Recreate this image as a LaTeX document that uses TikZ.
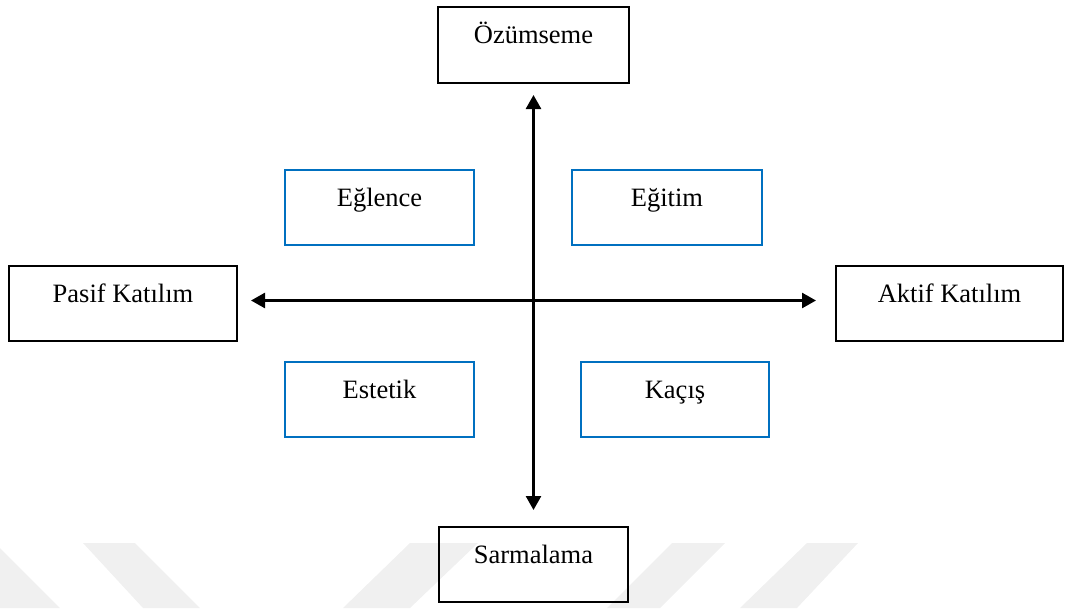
\documentclass[tikz,border=0pt]{standalone}
\usepackage{fontspec}
\setmainfont{Liberation Serif}
\usetikzlibrary{arrows.meta}
\definecolor{boxblue}{RGB}{0,112,192}
\definecolor{wmgray}{RGB}{240,240,240}
\tikzset{
  box/.style={draw, line width=2pt, inner sep=0pt, anchor=base,
    text height=36pt, text depth=40pt, font=\fontsize{26.5}{30}\selectfont},
  blackbox/.style={box, draw=black},
  bluebox/.style={box, draw=boxblue, text height=36pt, text depth=39pt},
  axis/.style={line width=2.6pt, {Triangle[length=14pt,width=15pt]}-{Triangle[length=14pt,width=15pt]}},
  wm/.style={fill=wmgray, draw=none}
}
\begin{document}
\begin{tikzpicture}[x=1pt,y=-1pt]
\useasboundingbox (0,0) rectangle (1065,608);
\begin{scope}
\clip (0,0) rectangle (1065,608);
\fill[wm] (-60,543) -- (-5,543) -- (60,608) -- (0,608) -- cycle;
\fill[wm] (83,543) -- (135,543) -- (200,608) -- (143,608) -- cycle;
\fill[wm] (410,543) -- (478,543) -- (410,608) -- (343,608) -- cycle;
\fill[wm] (672,543) -- (725,543) -- (660,608) -- (607,608) -- cycle;
\fill[wm] (807,543) -- (858,543) -- (797,608) -- (740,608) -- cycle;
\end{scope}

\node[blackbox, minimum width=191pt] (ozum) at (533.5,43) {Özümseme};
\node[blackbox, minimum width=228pt, text depth=39pt] (pasif) at (123,302) {Pasif Katılım};
\node[blackbox, minimum width=227pt, text depth=39pt] (aktif) at (949.5,302) {Aktif Katılım};
\node[blackbox, minimum width=189pt, text depth=39pt] (sarma) at (533.5,563) {Sarmalama};

\node[bluebox, minimum width=189pt] (eglence) at (379.5,206) {Eğlence};
\node[bluebox, minimum width=190pt] (egitim) at (667,206) {Eğitim};
\node[bluebox, minimum width=189pt] (estetik) at (379.5,398) {Estetik};
\node[bluebox, minimum width=188pt] (kacis) at (675,398) {Kaçış};

\draw[axis, shorten <=11pt, shorten >=16pt] (ozum.south) -- (sarma.north);
\draw[axis, shorten <=13pt, shorten >=19pt] ([yshift=3pt]pasif.east) -- ([yshift=3pt]aktif.west);
\end{tikzpicture}
\end{document}
